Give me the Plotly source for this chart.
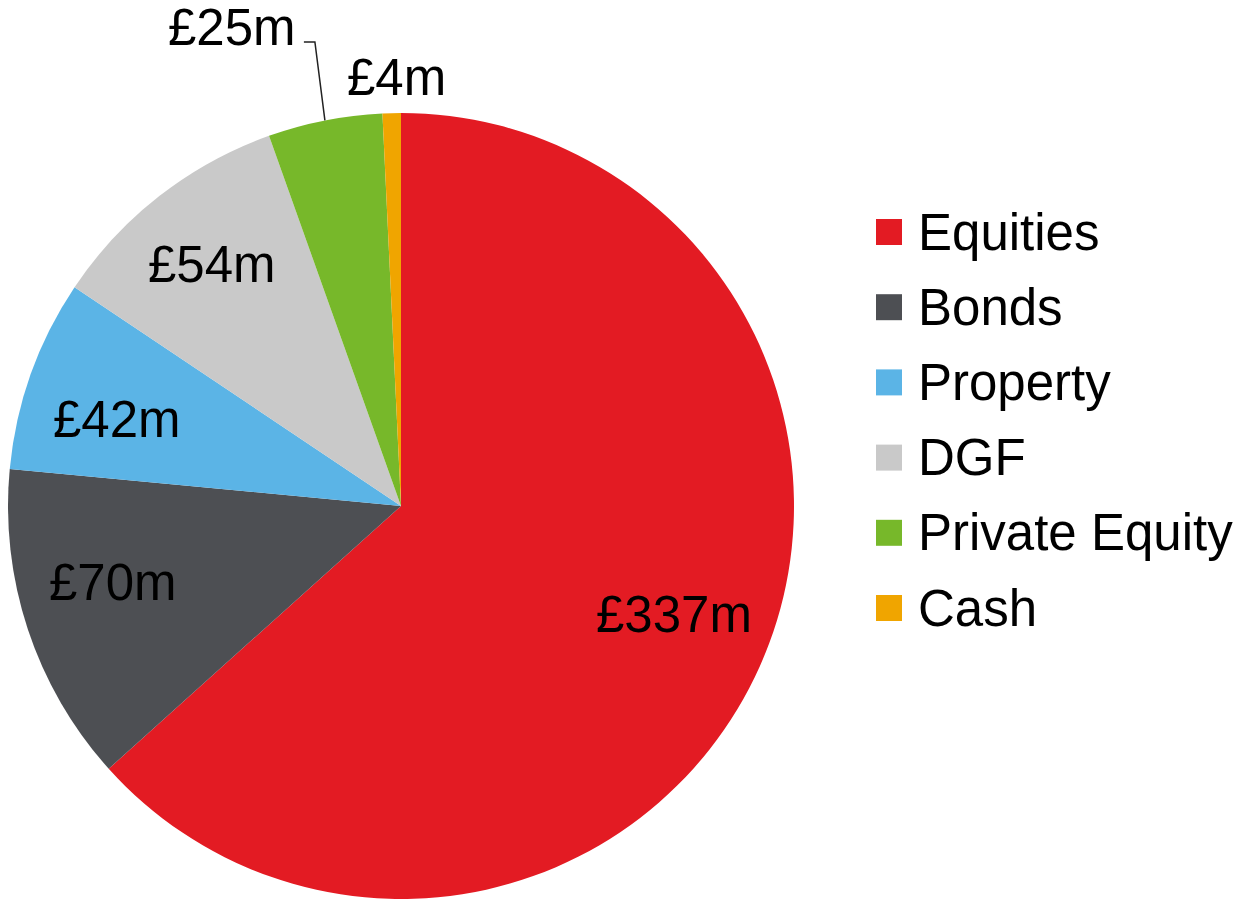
import math
import plotly.graph_objects as go

# Asset allocation (£m)
categories = ["Equities", "Bonds", "Property", "DGF", "Private Equity", "Cash"]
values = [337, 70, 42, 54, 25, 4]
colors = ["#E31B23", "#4D4F53", "#5BB4E6", "#C9C9C9", "#77B82A", "#F0A500"]

W, H = 1246, 900
FONT = "Liberation Sans, Arial, sans-serif"
FS = 51

# pie geometry in pixels
CX, CY, R = 401, 506, 393

# small angular nudges (degrees) and radius fractions for the inside labels
label_shift = {"Equities": -2.0, "Bonds": 3.0, "Property": -3.0, "DGF": -0.4}
label_rfrac = {"Equities": 0.75, "Bonds": 0.76, "Property": 0.755, "DGF": 0.775}


def px(x):
    return x / W


def py(y):
    return 1 - y / H


fig = go.Figure(
    go.Pie(
        labels=categories,
        values=values,
        marker=dict(colors=colors, line=dict(width=0)),
        sort=False,
        direction="clockwise",
        rotation=0,
        textinfo="none",
        hoverinfo="label+value",
        showlegend=False,
        domain=dict(x=[px(CX - R), px(CX + R)], y=[py(CY + R), py(CY - R)]),
    )
)

total = sum(values)
annotations = []
shapes = []
start = 0.0
for cat, v in zip(categories, values):
    sweep = v / total * 360
    mid_deg = start + sweep / 2
    start += sweep
    mid = math.radians(mid_deg)
    label = f"£{v}m"
    font = dict(family=FONT, size=FS, color="black")
    if cat == "Private Equity":
        # edge point with a bent leader line up to the label
        ex = CX + R * math.sin(mid)
        ey = CY - R * math.cos(mid)
        elbow_x, elbow_y = ex - 10, 42
        end_x = elbow_x - 11
        shapes.append(dict(
            type="path", xref="paper", yref="paper",
            path=f"M {px(ex)} {py(ey)} L {px(elbow_x)} {py(elbow_y)} L {px(end_x)} {py(elbow_y)}",
            line=dict(color="#222222", width=1.5),
        ))
        annotations.append(dict(
            x=px(end_x - 6), y=py(elbow_y - 14), xref="paper", yref="paper",
            text=label, showarrow=False, xanchor="right", yanchor="middle", font=font,
        ))
    elif cat == "Cash":
        r = R + 36
        lx = CX + r * math.sin(mid) + 6
        ly = CY - r * math.cos(mid)
        annotations.append(dict(
            x=px(lx), y=py(ly), xref="paper", yref="paper",
            text=label, showarrow=False, xanchor="center", yanchor="middle", font=font,
        ))
    else:
        a = math.radians(mid_deg + label_shift[cat])
        r = label_rfrac[cat] * R
        lx = CX + r * math.sin(a)
        ly = CY - r * math.cos(a) - 2
        annotations.append(dict(
            x=px(lx), y=py(ly), xref="paper", yref="paper",
            text=label, showarrow=False, xanchor="center", yanchor="middle", font=font,
        ))

# legend: colour squares with category names
LEG_X, LEG_Y0, LEG_STEP, SQ = 876, 232, 75.2, 26
for i, (cat, col) in enumerate(zip(categories, colors)):
    yc = LEG_Y0 + i * LEG_STEP
    shapes.append(dict(
        type="rect", xref="paper", yref="paper",
        x0=px(LEG_X), x1=px(LEG_X + SQ), y0=py(yc + SQ / 2), y1=py(yc - SQ / 2),
        fillcolor=col, line=dict(width=0),
    ))
    annotations.append(dict(
        x=px(LEG_X + 40), y=py(yc), xref="paper", yref="paper",
        text=cat, showarrow=False, xanchor="left", yanchor="middle",
        font=dict(family=FONT, size=FS, color="black"),
    ))

fig.update_layout(
    width=W, height=H,
    margin=dict(l=0, r=0, t=0, b=0),
    paper_bgcolor="white",
    plot_bgcolor="white",
    annotations=annotations,
    shapes=shapes,
)

fig.write_html("out.html")
